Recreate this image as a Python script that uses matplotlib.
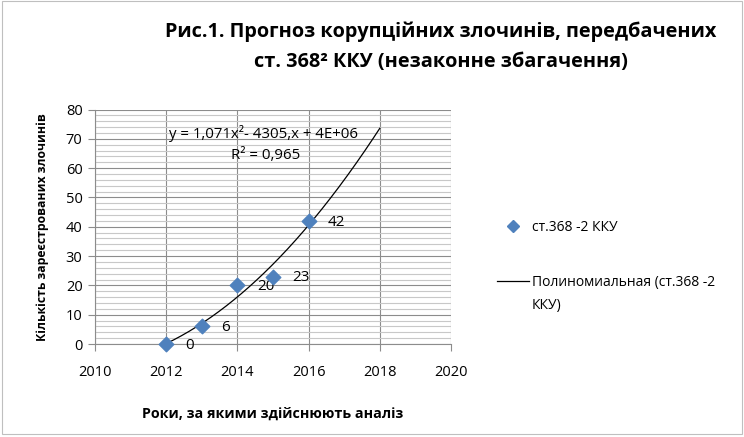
import numpy as np
import matplotlib.pyplot as plt
from matplotlib.lines import Line2D
from matplotlib.patches import Rectangle

# data
years = [2012, 2013, 2014, 2015, 2016]
crimes = [0, 6, 20, 23, 42]
point_labels = ['0', '6', '20', '23', '42']
series_name = 'ст.368 -2 ККУ'
trend_name = 'Полиномиальная (ст.368 -2'
trend_name_cont = 'ККУ)'
equation = 'y = 1,071x²- 4305,x + 4E+06'
r2_text = 'R² = 0,965'

plt.rcParams['font.family'] = ['Open Sans', 'DejaVu Sans']

fig = plt.figure(figsize=(7.44, 4.37), dpi=100)
fig.patches.append(Rectangle((0.003, 0.008), 0.994, 0.99, transform=fig.transFigure,
                             fill=False, edgecolor='#bfbfbf', linewidth=0.8))
ax = fig.add_axes([0.1277, 0.2128, 0.4785, 0.5366])

ax.set_xlim(2010, 2020)
ax.set_ylim(0, 80)
ax.set_xticks(range(2010, 2021, 2))
ax.set_yticks(range(0, 81, 10))
ax.set_yticks(range(0, 81, 2), minor=True)

ax.grid(which='minor', axis='y', color='#c8c8c8', linewidth=0.8)
ax.grid(which='major', axis='y', color='#8c8c8c', linewidth=0.8)
ax.grid(which='major', axis='x', color='#8c8c8c', linewidth=0.8)
ax.set_axisbelow(True)

for s in ['top', 'right']:
    ax.spines[s].set_visible(False)
for s in ['left', 'bottom']:
    ax.spines[s].set_color('#8c8c8c')
    ax.spines[s].set_linewidth(0.8)
ax.tick_params(which='major', length=5, color='#8c8c8c', labelsize=10.5, pad=4)
ax.tick_params(axis='x', pad=10)
ax.tick_params(which='minor', length=0)

# polynomial trend (order 2) extended to 2018
coef = np.polyfit(np.array(years) - 2014, crimes, 2)
xs = np.linspace(2012, 2018, 200)
ax.plot(xs, np.polyval(coef, xs - 2014), color='black', linewidth=0.9, zorder=3)

ax.scatter(years, crimes, marker='D', s=55, color='#4f81bd', zorder=4, clip_on=False)
for x, y, t in zip(years, crimes, point_labels):
    ax.annotate(t, (x, y), xytext=(14, -1), textcoords='offset points',
                va='center', ha='left', fontsize=11)

ax.text(2014.72, 71.8, equation, ha='center', va='center', fontsize=10.8)
ax.text(2014.8, 64.4, r2_text, ha='center', va='center', fontsize=10.8)

ax.set_xlabel('Роки, за якими здійснюють аналіз', fontsize=10.3, fontweight='bold', labelpad=19)
ax.set_ylabel('Кількість зареєстрованих злочинів', fontsize=8.8, fontweight='bold', labelpad=12)

fig.text(0.592, 0.893, 'Рис.1. Прогноз корупційних злочинів, передбачених\nст. 368² ККУ (незаконне збагачення)',
         ha='center', va='center', fontsize=14.3, fontweight='bold', linespacing=1.7)

handles = [Line2D([0], [0], marker='D', linestyle='none', color='#4f81bd', markersize=6),
           Line2D([0], [0], color='black', linewidth=0.9)]
fig.legend(handles, [series_name, trend_name], loc='upper left', bbox_to_anchor=(0.651, 0.525),
           frameon=False, fontsize=10, labelspacing=2.9, handlelength=2.3, handletextpad=0.2)
fig.text(0.7145, 0.302, trend_name_cont, ha='left', va='center', fontsize=10)

fig.savefig('out.png', dpi=100)
